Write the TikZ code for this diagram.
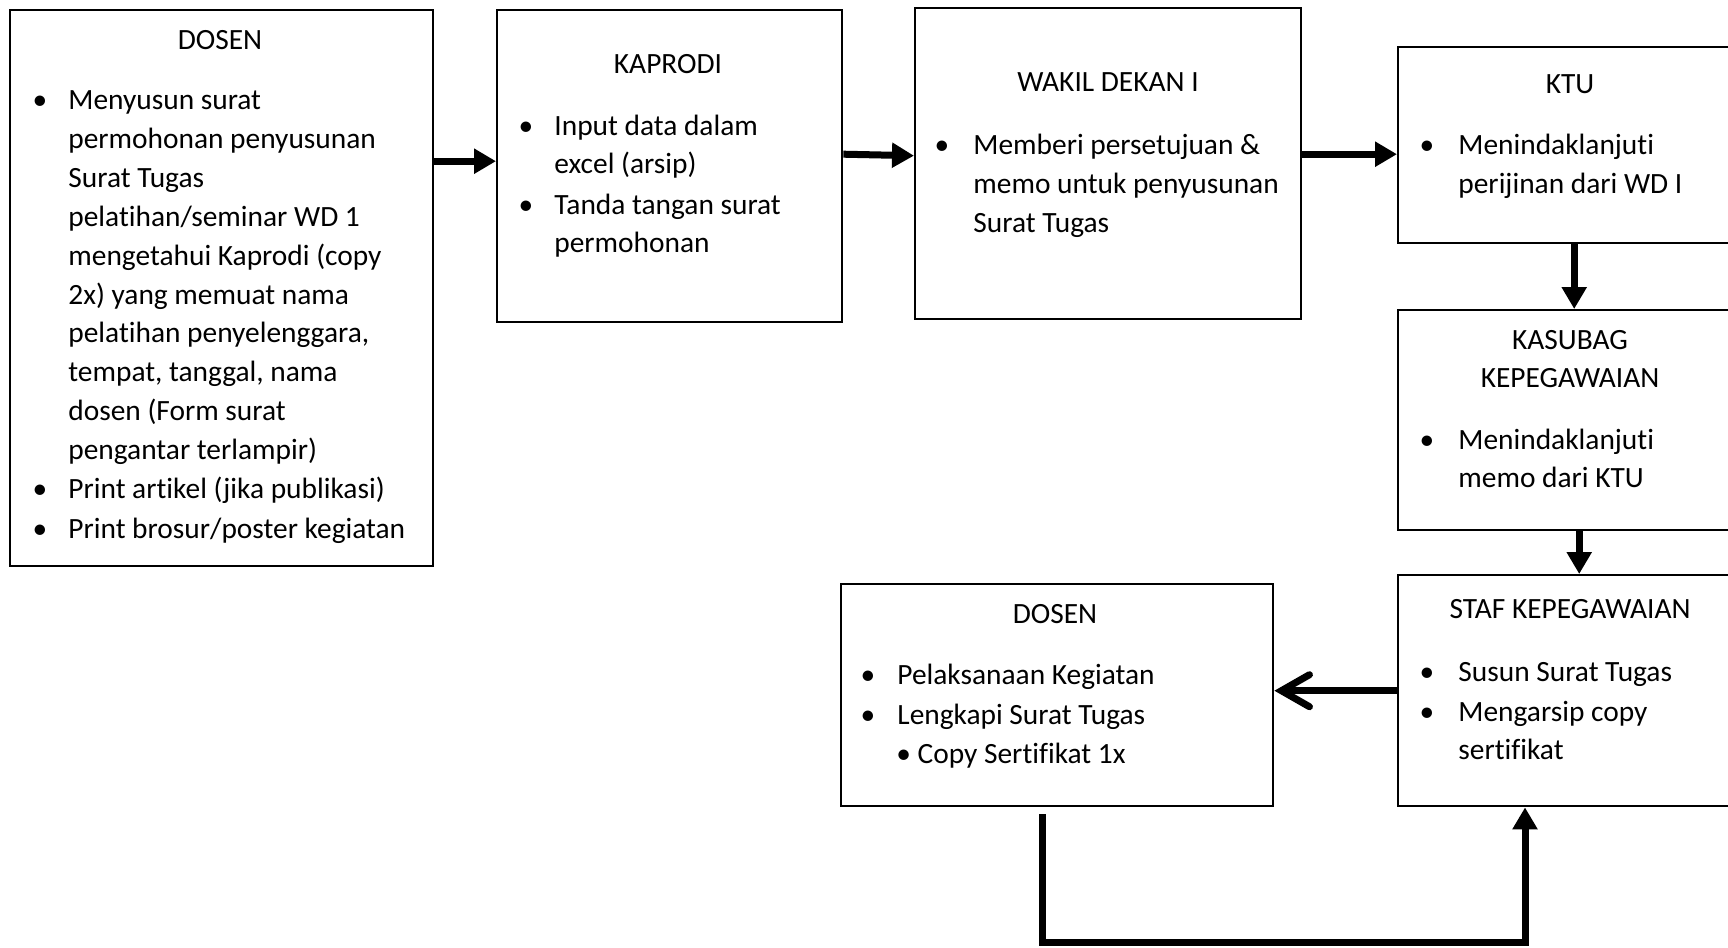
\documentclass[tikz,border=0pt]{standalone}
\usepackage{fontspec}
\setmainfont[Ligatures={NoCommon}]{Carlito}
\usetikzlibrary{arrows.meta}
\newcommand{\boxlines}[2][l]{\begin{tabular}[t]{@{}#1@{}}#2\end{tabular}}

\begin{document}
\begin{tikzpicture}[x=0.5pt, y=-0.5pt,
    box/.style={draw, line width=1.2pt, anchor=north west, inner sep=0pt},
    txt/.style={anchor=base west, inner sep=0pt, font=\fontsize{14.7}{19.4}\selectfont},
    ttl/.style={anchor=base, inner sep=0pt, font=\fontsize{14.7}{19.4}\selectfont},
    dot/.style={anchor=base, inner sep=0pt, font=\fontsize{14.7}{19.4}\selectfont},
    flow/.style={line width=3.5pt, -{Triangle[length=11pt, width=12pt]}},
    back/.style={line width=3.5pt, -{Straight Barb[length=14pt, width=16pt, line cap=round]}}]
    \useasboundingbox (0,0) rectangle (1728,947);
    \clip (0,0) rectangle (1728,947);

    % Boxes
    \node[box, minimum width=211.5pt, minimum height=278pt] (dosenA) at (9,9) {};
    \node[box, minimum width=172.5pt, minimum height=156pt] (kaprodi) at (496,9) {};
    \node[box, minimum width=193pt, minimum height=155.5pt] (wakil) at (914,7) {};
    \node[box, minimum width=173pt, minimum height=98pt] (ktu) at (1397,46) {};
    \node[box, minimum width=173pt, minimum height=110pt] (kasubag) at (1397,309) {};
    \node[box, minimum width=173pt, minimum height=115.5pt] (staf) at (1397,574) {};
    \node[box, minimum width=216pt, minimum height=111pt] (dosenB) at (840,583) {};

    % DOSEN (first)
    \node[ttl] (dosenAt) at (220,50) {DOSEN};
    \node[dot] at (40,110) {\textbullet};
    \node[txt] (dosenA1) at (68,110) {\boxlines{Menyusun surat\\permohonan penyusunan\\Surat Tugas\\pelatihan/seminar WD 1\\mengetahui Kaprodi (copy\\2x) yang memuat nama\\pelatihan penyelenggara,\\tempat, tanggal, nama\\dosen (Form surat\\pengantar terlampir)}};
    \node[dot] at (40,498) {\textbullet};
    \node[txt] (dosenA2) at (68,498) {Print artikel (jika publikasi)};
    \node[dot] at (40,538) {\textbullet};
    \node[txt] (dosenA3) at (68,538) {Print brosur/poster kegiatan};

    % KAPRODI
    \node[ttl] (kaprodit) at (668,74) {KAPRODI};
    \node[dot] at (526,135) {\textbullet};
    \node[txt] (kaprodi1) at (554,135) {\boxlines{Input data dalam\\excel (arsip)}};
    \node[dot] at (526,214) {\textbullet};
    \node[txt] (kaprodi2) at (554,214) {\boxlines{Tanda tangan surat\\permohonan}};

    % WAKIL DEKAN I
    \node[ttl] (wakilt) at (1108,92) {WAKIL DEKAN I};
    \node[dot] at (942,155) {\textbullet};
    \node[txt] (wakil1) at (973,155) {\boxlines{Memberi persetujuan \&\\memo untuk penyusunan\\Surat Tugas}};

    % KTU
    \node[ttl] (ktut) at (1570,94) {KTU};
    \node[dot] at (1427,155) {\textbullet};
    \node[txt] (ktu1) at (1458,155) {\boxlines{Menindaklanjuti\\perijinan dari WD I}};

    % KASUBAG KEPEGAWAIAN
    \node[ttl] (kasubagt) at (1570,349) {\boxlines[c]{KASUBAG\\KEPEGAWAIAN}};
    \node[dot] at (1427,449) {\textbullet};
    \node[txt] (kasubag1) at (1458,449) {\boxlines{Menindaklanjuti\\memo dari KTU}};

    % STAF KEPEGAWAIAN
    \node[ttl] (staft) at (1570,618) {STAF KEPEGAWAIAN};
    \node[dot] at (1427,681) {\textbullet};
    \node[txt] (staf1) at (1458,681) {Susun Surat Tugas};
    \node[dot] at (1427,721) {\textbullet};
    \node[txt] (staf2) at (1458,721) {\boxlines{Mengarsip copy\\sertifikat}};

    % DOSEN (second)
    \node[ttl] (dosenBt) at (1055,623) {DOSEN};
    \node[dot] at (868,684) {\textbullet};
    \node[txt] (dosenB1) at (897,684) {Pelaksanaan Kegiatan};
    \node[dot] at (868,724) {\textbullet};
    \node[txt] (dosenB2) at (897,724) {Lengkapi Surat Tugas};
    \node[txt] (dosenB3) at (896,763) {\textbullet\ Copy Sertifikat 1x};

    % Arrows
    \draw[flow] ([yshift=2.5pt]dosenA.east |- kaprodi.west) -- ([yshift=2.5pt]kaprodi.west);
    \draw[flow] ([yshift=6pt]kaprodi.east) -- ([yshift=4pt]wakil.west);
    \draw[flow] ([yshift=4.75pt]wakil.east) -- ([yshift=-4.5pt]ktu.west);
    \draw[flow] ([xshift=1.5pt]ktu.south) -- ([xshift=1.5pt]kasubag.north);
    \draw[flow] ([xshift=4pt]kasubag.south) -- ([xshift=4pt]staf.north);
    \draw[back] (staf.west) -- (staf.west -| dosenB.east);

    % Loop back to staf
    \coordinate (loopA) at (1042,814);
    \coordinate (loopB) at (1525,942);
    \draw[flow] (loopA) |- (loopB) -- (loopB |- staf.south);
\end{tikzpicture}
\end{document}
